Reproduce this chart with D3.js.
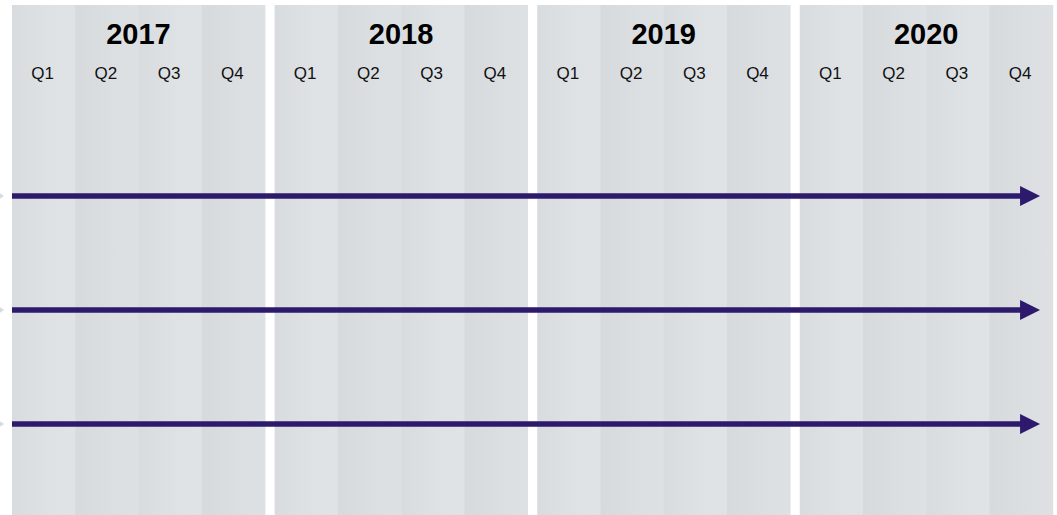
<!DOCTYPE html>
<html><head><meta charset="utf-8">
<script src="https://cdn.jsdelivr.net/npm/d3@7"></script>
<style>html,body{margin:0;padding:0;background:#fff;overflow:hidden}</style>
</head><body><svg id="c" width="1057" height="515"></svg>
<script>
const years = ["2017", "2018", "2019", "2020"];
const quarters = ["Q1", "Q2", "Q3", "Q4"];
const lanes = ["A", "B", "C"];
const laneStart = [0, 0, 0];       // quarter index where each arrow starts
const laneEnd = [15.8, 15.8, 15.8]; // quarter index where each arrow tip ends

const W = 1057, H = 515;
const svg = d3.select("#c");
const defs = svg.append("defs");

const xYear = d3.scaleBand().domain(years).range([12, 1052.7]).paddingInner(0.0368).paddingOuter(0);
const qw = xYear.bandwidth() / 4;
const xQ = d3.scaleBand().domain(quarters).range([0, xYear.bandwidth()]);
const qpos = v => { const yi = Math.min(Math.floor(v / 4), 3); return xYear(years[yi]) + (v - yi * 4) * qw; };
const yLane = d3.scalePoint().domain(lanes).range([196, 424]);

// gradients
const g1 = defs.append("linearGradient").attr("id", "g1");
g1.append("stop").attr("offset", "0%").attr("stop-color", "#d9dcdf");
g1.append("stop").attr("offset", "60%").attr("stop-color", "#dfe2e5");
g1.append("stop").attr("offset", "100%").attr("stop-color", "#e0e3e6");
const g2 = defs.append("linearGradient").attr("id", "g2");
g2.append("stop").attr("offset", "0%").attr("stop-color", "#d7dadd");
g2.append("stop").attr("offset", "60%").attr("stop-color", "#dcdfe2");
g2.append("stop").attr("offset", "100%").attr("stop-color", "#dee1e4");

const yg = svg.selectAll("g.year").data(years).join("g").attr("class", "year")
  .attr("transform", d => `translate(${xYear(d)},0)`);
yg.selectAll("rect").data(quarters).join("rect")
  .attr("x", d => xQ(d)).attr("y", 5).attr("width", xQ.bandwidth() + 0.5).attr("height", H - 5)
  .attr("fill", (d, i) => i % 2 === 0 ? "url(#g1)" : "url(#g2)");
yg.append("text").attr("x", xYear.bandwidth() / 2).attr("y", 44)
  .attr("text-anchor", "middle").attr("font-family", "'Liberation Sans', Arial, sans-serif")
  .attr("font-weight", "bold").attr("font-size", 29).attr("fill", "#000").text(d => d);
yg.selectAll("text.q").data(quarters).join("text").attr("class", "q")
  .attr("x", d => xQ(d) + xQ.bandwidth() / 2 - 1).attr("y", 79)
  .attr("text-anchor", "middle").attr("font-family", "'Liberation Sans', Arial, sans-serif")
  .attr("font-size", 17).attr("fill", "#111").text(d => d);

// faint left markers
svg.selectAll("path.lm").data(lanes).join("path").attr("class", "lm")
  .attr("d", d => `M-5,${yLane(d) - 6}L4,${yLane(d)}L-5,${yLane(d) + 6}Z`)
  .attr("fill", "#d3dbe6");

// arrows
const ag = svg.selectAll("g.arrow").data(lanes).join("g").attr("class", "arrow");
ag.append("line")
  .attr("x1", (d, i) => qpos(laneStart[i])).attr("x2", (d, i) => qpos(laneEnd[i]) - 18)
  .attr("y1", d => yLane(d)).attr("y2", d => yLane(d))
  .attr("stroke", "#2e1a6d").attr("stroke-width", 5.5);
ag.append("path")
  .attr("d", (d, i) => { const t = qpos(laneEnd[i]), y = yLane(d); return `M${t - 20},${y - 10}L${t},${y}L${t - 20},${y + 10}Z`; })
  .attr("fill", "#2e1a6d");
</script></body></html>
